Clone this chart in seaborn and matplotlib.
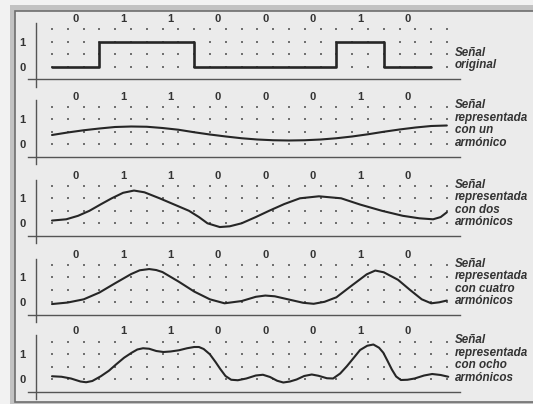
"""Fourier approximation of the bit string 01100010 (five stacked panels)."""

import matplotlib
matplotlib.use("Agg")
import numpy as np
import matplotlib.pyplot as plt
import seaborn as sns
from matplotlib.patches import Rectangle

# ---- data ----------------------------------------------------------------
bits = [0, 1, 1, 0, 0, 0, 1, 0]
bit_labels = ["0", "1", "1", "0", "0", "0", "1", "0"]

# one harmonic
t_h1 = [0.00, 0.33, 0.67, 1.00, 1.33, 1.67, 2.00, 2.33, 2.67, 3.00, 3.33, 3.67, 4.00,
        4.33, 4.67, 5.00, 5.33, 5.67, 6.00, 6.33, 6.67, 7.00, 7.33, 7.67, 8.00, 8.33]
v_h1 = [0.36, 0.46, 0.55, 0.62, 0.68, 0.70, 0.69, 0.64, 0.57, 0.47, 0.38, 0.30, 0.23,
        0.18, 0.15, 0.14, 0.15, 0.18, 0.23, 0.30, 0.39, 0.49, 0.58, 0.66, 0.72, 0.74]

# two harmonics
t_h2 = [0.00, 0.30, 0.55, 0.79, 1.03, 1.26, 1.50, 1.73, 1.95, 2.27, 2.58, 2.89, 3.10,
        3.28, 3.54, 3.75, 4.00, 4.30, 4.58, 4.90, 5.23, 5.63, 6.10, 6.50, 6.96, 7.40,
        7.75, 8.04, 8.20, 8.33]
v_h2 = [0.11, 0.16, 0.30, 0.50, 0.76, 1.00, 1.22, 1.31, 1.24, 1.00, 0.75, 0.50, 0.25,
        0.00, -0.15, -0.12, 0.00, 0.25, 0.50, 0.77, 1.00, 1.08, 1.00, 0.75, 0.50, 0.30,
        0.20, 0.16, 0.25, 0.44]

# four harmonics
t_h4 = [0.00, 0.33, 0.67, 1.00, 1.33, 1.67, 1.85, 2.05, 2.20, 2.33, 2.67, 3.00, 3.33,
        3.64, 4.00, 4.30, 4.50, 4.70, 5.00, 5.30, 5.52, 5.75, 6.00, 6.31, 6.64, 6.82,
        7.00, 7.30, 7.55, 7.80, 8.00, 8.17, 8.33]
v_h4 = [-0.07, -0.01, 0.12, 0.39, 0.76, 1.13, 1.28, 1.33, 1.29, 1.21, 0.83, 0.43, 0.12,
        -0.04, 0.05, 0.22, 0.27, 0.24, 0.11, -0.02, -0.06, 0.02, 0.20, 0.65, 1.12, 1.27,
        1.20, 0.90, 0.50, 0.12, -0.04, 0.00, 0.07]

# eight harmonics
t_h8 = [0.00, 0.20, 0.40, 0.60, 0.72, 0.85, 1.03, 1.20, 1.35, 1.52, 1.68, 1.80, 1.92,
        2.05, 2.20, 2.35, 2.50, 2.68, 2.85, 3.00, 3.10, 3.20, 3.33, 3.45, 3.55, 3.66,
        3.78, 3.92, 4.10, 4.30, 4.45, 4.60, 4.75, 4.88, 5.02, 5.16, 5.32, 5.48, 5.62,
        5.80, 5.93, 6.08, 6.22, 6.38, 6.50, 6.65, 6.78, 6.90, 6.99, 7.08, 7.17, 7.26,
        7.36, 7.50, 7.65, 7.85, 8.02, 8.20, 8.36]
v_h8 = [0.11, 0.09, 0.02, -0.10, -0.13, -0.08, 0.11, 0.33, 0.58, 0.85, 1.05, 1.18, 1.23,
        1.21, 1.12, 1.08, 1.10, 1.15, 1.23, 1.28, 1.28, 1.20, 0.99, 0.68, 0.40, 0.12,
        -0.03, -0.05, 0.02, 0.14, 0.17, 0.08, -0.07, -0.14, -0.10, -0.02, 0.12, 0.18, 0.13,
        0.03, 0.02, 0.22, 0.51, 0.88, 1.16, 1.33, 1.38, 1.25, 1.05, 0.72, 0.38, 0.10,
        -0.04, -0.03, 0.02, 0.14, 0.20, 0.16, 0.09]

captions = [
    ["Señal", "original"],
    ["Señal", "representada", "con un", "armónico"],
    ["Señal", "representada", "con dos", "armónicos"],
    ["Señal", "representada", "con cuatro", "armónicos"],
    ["Señal", "representada", "con ocho", "armónicos"],
]
curves = [(t_h1, v_h1), (t_h2, v_h2), (t_h4, v_h4), (t_h8, v_h8)]

# ---- layout ---------------------------------------------------------------
W, H = 533, 404
PX_BIT, PX_UNIT = 47.4, 25.0
X0 = 52.0                      # pixel of t = 0
ROW0 = [66.7, 144.0, 223.3, 302.3, 379.0]   # pixel of value 0 in each panel
XLIM, YLIM = (-0.6, 8.9), (-0.9, 2.2)

LINE = "#262626"
DOT = "#707070"
AXIS = "#555555"

sns.set_theme(style="white")
plt.rcParams["font.family"] = ["Liberation Sans", "DejaVu Sans"]

fig = plt.figure(figsize=(W / 100, H / 100), dpi=100)
fig.patch.set_facecolor("#f2f2f2")

# scanned page frame
fig.add_artist(Rectangle((10 / W, 0), 1, 1 - 5 / H, transform=fig.transFigure,
                         facecolor="#c2c2c2", edgecolor="none", zorder=-3))
fig.add_artist(Rectangle((15 / W, 1 - 401.5 / H), 1, (401.5 - 11) / H,
                         transform=fig.transFigure, facecolor="#ebebeb",
                         edgecolor="#6e6e6e", linewidth=1.2, zorder=-2))

grid_t = np.arange(26) / 3
grid_v = np.array([0, 0.5, 1, 1.5])
gx, gy = np.meshgrid(grid_t, grid_v)

for i, y0 in enumerate(ROW0):
    left = (X0 + XLIM[0] * PX_BIT) / W
    width = (XLIM[1] - XLIM[0]) * PX_BIT / W
    bottom = (H - (y0 - YLIM[0] * PX_UNIT)) / H
    height = (YLIM[1] - YLIM[0]) * PX_UNIT / H
    ax = fig.add_axes([left, bottom, width, height])
    ax.set_facecolor("none")
    ax.set_xlim(*XLIM)
    ax.set_ylim(*YLIM)

    # dotted grid
    sns.scatterplot(x=gx.ravel(), y=gy.ravel(), marker="s", s=4.5, color=DOT,
                    linewidth=0, ax=ax, zorder=1)

    # signal
    if i == 0:
        t_step = list(range(len(bits) + 1))
        v_step = bits + [bits[-1]]
        sns.lineplot(x=t_step, y=v_step, color=LINE, linewidth=1.9,
                     drawstyle="steps-post", ax=ax, zorder=3)
    else:
        t_c, v_c = curves[i - 1]
        sns.lineplot(x=t_c, y=v_c, color=LINE, linewidth=1.5, sort=False,
                     estimator=None, ax=ax, zorder=3)

    # axes drawn like the book: crossing spines with through-ticks
    for side in ("top", "right"):
        ax.spines[side].set_visible(False)
    ax.spines["left"].set_position(("data", -0.34))
    ax.spines["left"].set_bounds(-0.8, 1.75)
    ax.spines["bottom"].set_position(("data", -0.5))
    ax.spines["bottom"].set_bounds(-0.5, 8.6)
    for side in ("left", "bottom"):
        ax.spines[side].set_color(AXIS)
        ax.spines[side].set_linewidth(1.0)

    ax.set_xticks(grid_t)
    ax.set_xticklabels([])
    ax.set_yticks(grid_v)
    ax.set_yticklabels(["0", "", "1", ""], fontsize=8, fontweight="bold",
                       color="#333333")
    ax.tick_params(axis="x", direction="inout", length=4, width=0.8, colors=AXIS)
    ax.tick_params(axis="y", direction="inout", length=5, width=0.8, colors=AXIS,
                   labelcolor="#333333", pad=5)
    ax.set_xlabel("")
    ax.set_ylabel("")

    # bit labels
    for b, lab in enumerate(bit_labels):
        ax.text(b + 0.5, 1.9, lab, ha="center", va="center", fontsize=8,
                fontweight="bold", color="#333333", clip_on=False)

    # caption to the right
    lines = captions[i]
    rows = [0.5, 0.0] if len(lines) == 2 else [1.5, 1.0, 0.5, 0.0]
    for txt, r in zip(lines, rows):
        ax.text(8.5, r + 0.05, txt, ha="left", va="center", fontsize=8.4,
                fontstyle="italic", fontweight="semibold", color="#333333",
                clip_on=False)

fig.savefig("out.png", dpi=100, facecolor=fig.get_facecolor())
